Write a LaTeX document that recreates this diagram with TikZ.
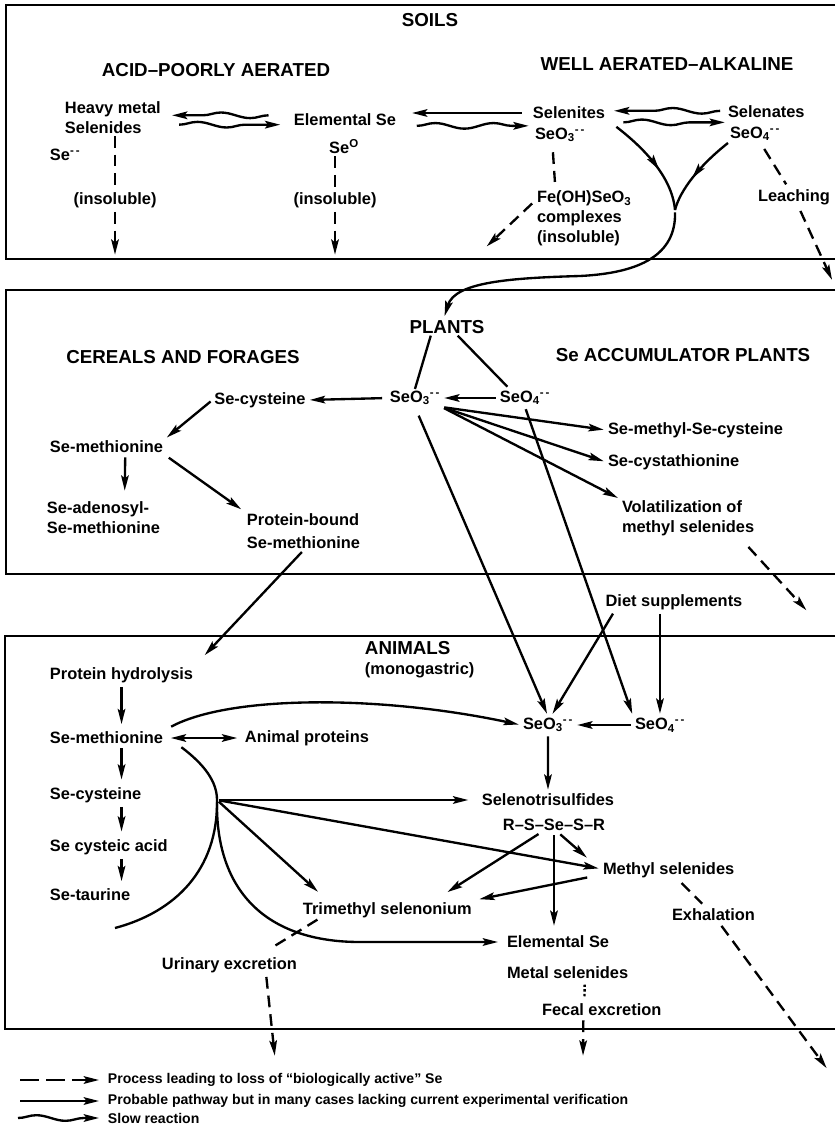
\documentclass[tikz,border=0pt]{standalone}
\usepackage{fontspec}
\setmainfont{Liberation Sans}
\usetikzlibrary{arrows.meta,calc,decorations.pathmorphing,decorations.markings}

\newcommand{\dgmfont}{\bfseries\fontsize{14}{17}\selectfont}
\newcommand{\dgmhead}{\bfseries\fontsize{16}{19}\selectfont}
\newcommand{\dgmkey}{\bfseries\fontsize{12}{14}\selectfont}
\newcommand{\seothree}{SeO\textsubscript{3}\textsuperscript{-\,-}}
\newcommand{\seofour}{SeO\textsubscript{4}\textsuperscript{-\,-}}

\begin{document}
\begin{tikzpicture}[x=0.03cm, y=-0.03cm,
zone-line/.style = {line width=1.6pt},
compound/.style = {inner sep=1.5pt, font=\dgmfont},
heading/.style = {inner sep=1.5pt, font=\dgmhead},
keytext/.style = {inner sep=1.5pt, font=\dgmkey, anchor=west},
path-line/.style = {line width=2pt},
path-arrow/.style = {path-line, -{Stealth[length=13pt,width=6.5pt,inset=2.5pt]},
    shorten >=2pt, shorten <=2pt},
twin-arrow/.style = {path-line, {Stealth[length=13pt,width=6.5pt,inset=2.5pt]}-{Stealth[length=13pt,width=6.5pt,inset=2.5pt]}},
loss-line/.style = {path-line, dash pattern=on 10pt off 6pt},
loss-arrow/.style = {loss-line, -{Stealth[length=13pt,width=6.5pt,inset=2.5pt]},
    shorten >=2pt, shorten <=2pt},
slow-arrow/.style = {path-line, -{Stealth[length=13pt,width=6.5pt,inset=2.5pt]}, decorate,
    decoration={snake, amplitude=2.4pt, segment length=50pt, post length=11pt}},
mid-arrow/.style = {path-line, postaction={decorate},
    decoration={markings, mark=at position 0.58 with {\arrow{Stealth[length=13pt,width=6.5pt,inset=2.5pt]}}}}
]
\useasboundingbox (0,0) rectangle (835,1127);

% the three zones
\draw[zone-line] (835,5) -- (6,5) -- (6,259) -- (835,259);
\draw[zone-line] (835,290) -- (6,290) -- (6,574) -- (835,574);
\draw[zone-line] (835,636) -- (5,636) -- (5,1029) -- (835,1029);

% soils
\node[heading] (soils) at (430,20) {SOILS};
\node[heading] (acid) at (216,70) {ACID--POORLY AERATED};
\node[heading] (well) at (667,64) {WELL AERATED--ALKALINE};
\node[compound, anchor=north west, align=left] (s-hms) at (63,100) {Heavy metal\\Selenides};
\node[compound, anchor=west] (s-sem) at (48,155) {Se\textsuperscript{-\,-}};
\node[compound] (s-ins1) at (115,200) {(insoluble)};
\node[compound] (s-elem) at (345,120) {Elemental Se};
\node[compound] (s-seo) at (344,147) {Se\textsuperscript{O}};
\node[compound] (s-ins2) at (335,200) {(insoluble)};
\node[compound, anchor=west] (s-sel) at (531,113) {Selenites};
\node[compound, anchor=west] (s-seo3) at (533,135) {\seothree};
\node[compound, anchor=west] (s-sen) at (726,112) {Selenates};
\node[compound, anchor=west] (s-seo4) at (728,134) {\seofour};
\node[compound, anchor=north west, align=left] (s-fe) at (535,189) {Fe(OH)SeO\textsubscript{3}\\complexes\\(insoluble)};
\node[compound] (s-leach) at (794,197) {Leaching};
\coordinate (ins1-out) at (115,257);
\coordinate (ins2-out) at (335,257);
\coordinate (fe-out) at (485,248);
\coordinate (leach-out) at (833,282);
\coordinate (merge) at (675,210);

\draw[loss-line] (s-hms.south -| s-ins1) -- (s-ins1);
\draw[loss-arrow] (s-ins1) -- (ins1-out);
\draw[loss-line] (s-seo.south -| s-ins2) -- (s-ins2);
\draw[loss-arrow] (s-ins2) -- (ins2-out);
\draw[slow-arrow] ($(s-elem.west)+(-20pt,4pt)$) -- ($(s-elem.west -| s-hms.east)+(8pt,4pt)$);
\draw[slow-arrow] ($(s-elem.west -| s-hms.east)+(14pt,-4pt)$) -- ($(s-elem.west)+(-10pt,-4pt)$);
\draw[path-arrow, shorten <=8pt, shorten >=12pt] (s-sel.west) -- (s-sel.west -| s-elem.east);
\draw[slow-arrow] ($(s-elem.east)+(16pt,-5pt)$) -- ($(s-elem.east -| s-sel.west)+(-2pt,-5pt)$);
\draw[slow-arrow] ($(s-sen.west)+(-5pt,1pt)$) -- ($(s-sen.west -| s-sel.east)+(6pt,1pt)$);
\draw[slow-arrow] ($(s-sel.east)+(14pt,-8pt)$) -- ($(s-sel.east -| s-sen.west)+(-1pt,-8pt)$);
\draw[loss-line] ($(s-seo3.south west)+(17pt,-7pt)$) -- ($(s-fe.north west)+(17pt,6pt)$);
\draw[loss-arrow] ($(s-fe.north west)+(-1pt,-11pt)$) -- (fe-out);
\draw[loss-line, shorten <=6pt, shorten >=3pt] (s-seo4) -- (s-leach);
\draw[loss-arrow, shorten <=4pt] (s-leach) -- (leach-out);
\draw[mid-arrow] ($(s-sel.south east)+(8pt,-5pt)$) .. controls (640,145) and (672,175) .. (merge);
\draw[mid-arrow] (s-seo4.south west) .. controls (700,165) and (680,190) .. (merge);

% plants
\node[heading] (plants) at (447,327) {PLANTS};
\node[heading] (cereals) at (183,357) {CEREALS AND FORAGES};
\node[heading] (accum) at (683,355) {Se ACCUMULATOR PLANTS};
\node[compound, anchor=west] (p-seo3) at (388,398) {\seothree};
\node[compound, anchor=west] (p-seo4) at (498,398) {\seofour};
\node[compound] (p-secys) at (260,400) {Se-cysteine};
\node[compound, anchor=west] (p-semet) at (48,447) {Se-methionine};
\node[compound, anchor=north west, align=left] (p-sam) at (45,500) {Se-adenosyl-\\Se-methionine};
\node[compound, anchor=north west, align=left] (p-pbound) at (245,512) {Protein-bound\\[2pt]Se-methionine};
\node[compound, anchor=west] (p-smsc) at (606,430) {Se-methyl-Se-cysteine};
\node[compound, anchor=west] (p-scysta) at (606,462) {Se-cystathionine};
\node[compound, anchor=north west, align=left] (p-volat) at (620,499) {Volatilization of\\methyl selenides};
\coordinate (volat-out) at (808,612);

\draw[path-arrow] (merge) .. controls (676,255) and (640,273) .. (580,276)
    .. controls (510,278) and (455,282) .. (plants.110);
\draw[path-line] (plants.208) -- (p-seo3.north);
\draw[path-line] (plants.321) -- ($(p-seo4.north west)+(8pt,2pt)$);
\draw[path-arrow] (p-seo4.west) -- (p-seo3.east);
\draw[path-arrow, shorten <=5pt] (p-seo3.west) -- (p-secys.east);
\draw[path-arrow] (p-secys.west) -- (p-semet.north east);
\draw[path-arrow, shorten >=8pt] ($(p-semet.south)+(16pt,0)$) -- ($(p-sam.north)+(18pt,0)$);
\draw[path-arrow, shorten <=4pt, shorten >=4pt] (p-semet.south east) -- (p-pbound.north west);
\draw[path-arrow] (p-seo3.south east) -- (p-smsc.west);
\draw[path-arrow] (p-seo3.south east) -- (p-scysta.west);
\draw[path-arrow] (p-seo3.south east) -- (p-volat.north west);
\draw[loss-arrow] ($(p-volat.south east)+(-8pt,-6pt)$) -- (volat-out);

% animals
\node[heading, anchor=west] (animals) at (363,648) {ANIMALS};
\node[compound, anchor=west] (mono) at (363,670) {(monogastric)};
\node[compound] (diet) at (674,602) {Diet supplements};
\node[compound, anchor=west] (a-seo3) at (521,725) {\seothree};
\node[compound, anchor=west] (a-seo4) at (633,725) {\seofour};
\node[compound] (a-selen) at (548,800) {Selenotrisulfides};
\node[compound] (a-rs) at (554,825) {R--S--Se--S--R};
\node[compound, anchor=west] (a-hydro) at (48,675) {Protein hydrolysis};
\node[compound, anchor=west] (a-semet) at (48,738) {Se-methionine};
\node[compound, anchor=west] (a-aprot) at (243,738) {Animal proteins};
\node[compound, anchor=west] (a-secys) at (48,795) {Se-cysteine};
\node[compound, anchor=west] (a-cysteic) at (48,847) {Se cysteic acid};
\node[compound, anchor=west] (a-taur) at (48,895) {Se-taurine};
\node[compound, anchor=west] (a-trimeth) at (301,910) {Trimethyl selenonium};
\node[compound, anchor=west] (a-methsel) at (601,870) {Methyl selenides};
\node[compound, anchor=west] (a-exhal) at (670,915) {Exhalation};
\node[compound, anchor=west] (a-elem) at (505,942) {Elemental Se};
\node[compound, anchor=west] (a-metsel) at (505,973) {Metal selenides};
\node[compound, anchor=west] (a-fecal) at (540,1010) {Fecal excretion};
\node[compound, anchor=west] (a-urin) at (160,965) {Urinary excretion};
\coordinate (hub) at (217,800);
\coordinate (fork-end) at (115,928);
\coordinate (exhal-out) at (828,1070);
\coordinate (fecal-out) at (583,1058);
\coordinate (urin-out) at (275,1058);

\draw[path-arrow, shorten <=8pt] (p-seo3.south) -- (a-seo3.north);
\draw[path-arrow] (p-seo4.south) -- (a-seo4.north west);
\draw[path-arrow, shorten >=12pt] (p-pbound.south) -- (a-hydro.north east);
\draw[path-arrow] ($(diet.south west)+(9pt,0)$) -- (a-seo3.70);
\draw[path-arrow] (diet.south -| a-seo4.north) -- (a-seo4.north);
\draw[path-arrow] (a-seo4.west) -- (a-seo3.east);
\draw[path-arrow] (a-seo3.south) -- (a-selen.north);
\draw[path-arrow, shorten >=5pt] (a-hydro.south) -- (a-hydro.south |- a-semet.north);
\draw[path-arrow, shorten >=5pt] (a-hydro.south |- a-semet.south) -- (a-hydro.south |- a-secys.north);
\draw[path-arrow, shorten >=5pt] (a-hydro.south |- a-secys.south) -- (a-hydro.south |- a-cysteic.north);
\draw[path-arrow, shorten >=5pt] (a-hydro.south |- a-cysteic.south) -- (a-hydro.south |- a-taur.north);
\draw[twin-arrow, shorten <=5pt, shorten >=5pt] (a-semet.east) -- (a-aprot.west);
\draw[path-arrow, shorten <=6pt] (a-semet.north east) .. controls (230,695) and (380,695) .. (a-seo3.west);
\draw[path-line] ($(a-semet.south east)+(14pt,-1pt)$) .. controls (205,765) and (217,782) .. (hub);
\draw[path-line] (hub) .. controls (218,870) and (175,912) .. (fork-end);
\draw[path-arrow, shorten >=6pt] (hub) .. controls (216,890) and (265,942) .. (360,942) -- (a-elem.west);
\draw[path-arrow, shorten >=10pt] (hub) -- (hub -| a-selen.west);
\draw[path-arrow] (hub) -- ([yshift=1pt]a-methsel.west);
\draw[path-arrow] (hub) -- ($(a-trimeth.north west)+(16pt,6pt)$);
\draw[path-arrow] (a-rs.210) -- ($(a-trimeth.north east)+(-24pt,6pt)$);
\draw[path-arrow, shorten >=7pt] (a-rs.south) -- (a-rs.south |- a-elem.north);
\draw[path-arrow, shorten >=16pt] (a-rs.300) -- (a-methsel.west);
\draw[path-arrow, shorten <=12pt, shorten >=5pt] ([yshift=-4pt]a-methsel.west) -- (a-trimeth.north east);
\draw[loss-line, shorten <=4pt, shorten >=4pt] (a-methsel) -- (a-exhal);
\draw[loss-arrow, shorten <=3pt] (a-exhal) -- (exhal-out);
\draw[loss-line, dash pattern=on 2pt off 2pt] ($(a-metsel.south west)+(68pt,-3pt)$) -- ($(a-fecal.north west)+(38pt,3pt)$);
\draw[loss-arrow] ($(a-fecal.south west)+(37pt,0)$) -- (fecal-out);
\draw[loss-line] ($(a-trimeth.south west)+(14pt,0)$) -- ($(a-urin.north east)+(-24pt,6pt)$);
\draw[loss-arrow] ($(a-urin.south east)+(-28pt,0)$) -- (urin-out);

% key
\node[keytext] (key-loss) at (106,1080) {Process leading to loss of ``biologically active'' Se};
\node[keytext] (key-path) at (106,1101) {Probable pathway but in many cases lacking current experimental verification};
\node[keytext] (key-slow) at (106,1118) {Slow reaction};
\coordinate (key-loss-a) at (18,1080);
\coordinate (key-path-a) at (18,1101);
\coordinate (key-slow-a) at (18,1118);
\draw[loss-arrow, dash pattern=on 16pt off 6pt, shorten >=6pt] (key-loss-a) -- (key-loss.west);
\draw[path-arrow, shorten >=6pt] (key-path-a) -- (key-path.west);
\draw[slow-arrow] (key-slow-a) -- ($(key-slow.west)+(-6pt,0)$);
\end{tikzpicture}
\end{document}
